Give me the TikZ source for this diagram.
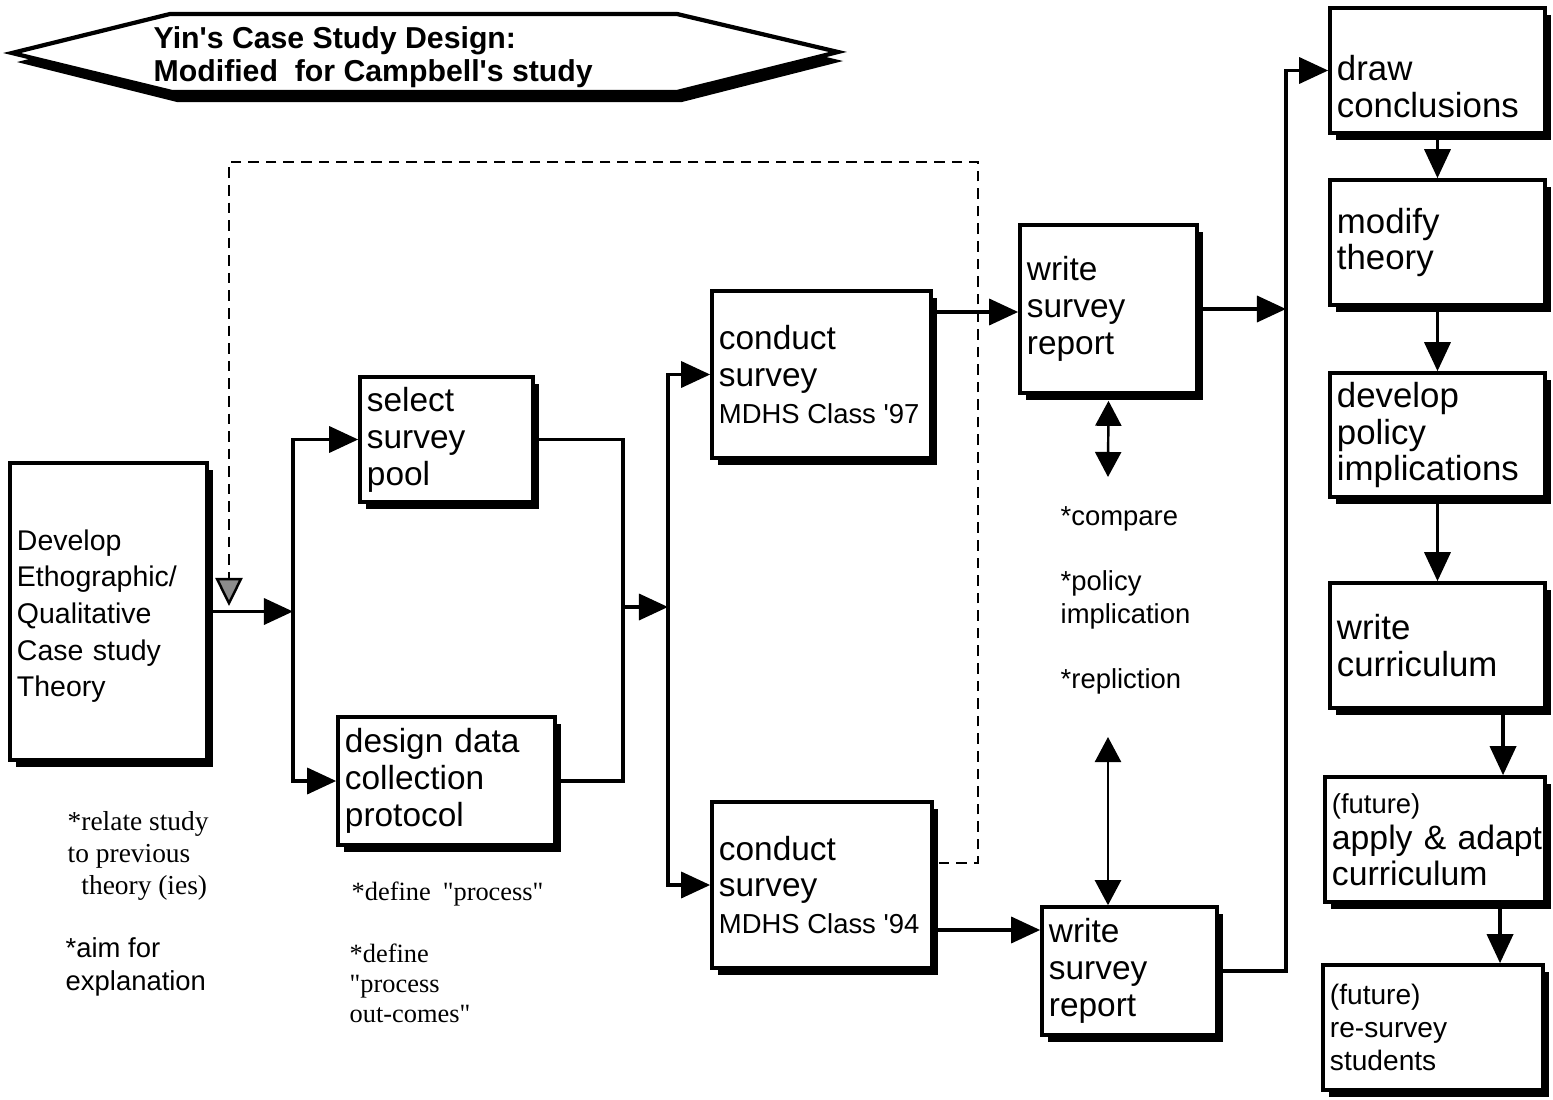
\documentclass[tikz,border=0pt]{standalone}
\usepackage{fontspec}
\setmainfont{Liberation Sans}
\newfontfamily\timesfont{Liberation Serif}
\usetikzlibrary{arrows.meta,shadows,calc}

\newcommand\smallsans{\fontsize{7.8}{9.6}\selectfont\spaceskip=0.28em\relax}

\begin{document}
\begin{tikzpicture}[x=0.01cm, y=-0.01cm,
    stepbox/.style={draw, rectangle, line width=1pt, fill=white,
        inner xsep=0.07cm, inner ysep=0pt, align=left,
        font=\fontsize{9.5}{10.5}\selectfont,
        drop shadow={shadow xshift=0.06cm, shadow yshift=-0.07cm, fill=black, opacity=1}},
    rightbox/.style={stepbox, text width=2.01cm, minimum height=1.25cm,
        font=\fontsize{9.9}{10.5}\selectfont},
    note/.style={align=left, inner sep=0pt, font=\fontsize{7.8}{9.3}\selectfont},
    timesnote/.style={note, font=\timesfont\fontsize{7.8}{9.1}\selectfont},
    flow/.style={line width=1pt, -{Triangle[length=0.29cm, width=0.26cm]}},
    joint/.style={line width=1pt},
    dbl/.style={line width=0.7pt,
        {Triangle[length=0.25cm, width=0.26cm]}-{Triangle[length=0.25cm, width=0.26cm]}},
    loopback/.style={line width=0.7pt, densely dashed,
        -{Triangle[length=0.28cm, width=0.27cm, fill=black!45]}}]

    % Page area
    \path[use as bounding box, fill=white] (0,0) rectangle (1553,1100);

    % Title banner with its shadow
    \fill (17,62) -- (175,23) -- (682,23) -- (843,61) -- (682,102) -- (177,102) -- cycle;
    \draw[line width=1.2pt, fill=white] (12,53) -- (170,14) -- (677,14) -- (838,52) -- (677,92) -- (172,92) -- cycle;
    \node[anchor=west, align=left, inner sep=0pt, font=\fontsize{8.6}{9.3}\selectfont\bfseries] (title) at (153,57)
        {Yin\textquotesingle s Case Study Design:\\Modified\ \ for Campbell\textquotesingle s study};

    % Boxes of the design
    \node[stepbox, text width=1.83cm, minimum height=2.97cm, font=\fontsize{8.1}{10.4}\selectfont] (theory) at (108.5,611.5)
        {\rule{0pt}{0.3cm}Develop\\Ethographic/\\Qualitative\\Case study\\Theory};
    \node[stepbox, text width=1.59cm, minimum height=1.25cm] (pool) at (446.5,439.5) {select\\survey\\pool};
    \node[stepbox, text width=2.03cm, minimum height=1.28cm] (protocol) at (446.5,781) {\mbox{design data}\\collection\\protocol};
    \node[stepbox, text width=2.05cm, minimum height=1.67cm] (survA) at (821.5,374.5)
        {conduct\\survey\\{\smallsans\mbox{MDHS Class \textquotesingle 97}}};
    \node[stepbox, text width=2.06cm, minimum height=1.66cm] (survB) at (822,885)
        {conduct\\survey\\{\smallsans\mbox{MDHS Class \textquotesingle 94}}};
    \node[stepbox, text width=1.63cm, minimum height=1.68cm] (reportA) at (1108.5,309) {write\\survey\\report};
    \node[stepbox, text width=1.61cm, minimum height=1.28cm] (reportB) at (1129.5,971) {write\\survey\\report};

    % Right column
    \node[rightbox] (concl) at (1437.5,70.5) {\rule{0pt}{0.58cm}draw\\conclusions};
    \node[rightbox] (modify) at (1437.5,242.5) {modify\\theory};
    \node[rightbox, minimum height=1.24cm] (policy) at (1437.5,435) {develop\\policy\\implications};
    \node[rightbox] (curric) at (1437.5,645.5) {write\\curriculum};
    \node[rightbox, text width=2.06cm, font=\fontsize{9.6}{10.2}\selectfont] (apply) at (1435,839.5)
        {{\smallsans (future)}\\\mbox{apply \& adapt}\\curriculum};
    \node[rightbox, text width=2.06cm, font=\fontsize{8}{9.4}\selectfont] (resurvey) at (1433,1027.5)
        {(future)\\re-survey\\students};

    % Notes
    \node[timesnote, anchor=west] (relate) at (67,856) {*relate study\\to previous\\\ \ theory (ies)};
    \node[note, anchor=west] (aim) at (65,967) {*aim for\\explanation};
    \node[timesnote, anchor=west, font=\timesfont\fontsize{7.5}{8.6}\selectfont] (defA) at (351,894)
        {*define\hspace{0.12cm}"process"};
    \node[timesnote, anchor=west, font=\timesfont\fontsize{7.5}{8.5}\selectfont] (defB) at (349,983)
        {*define\\"process\\out-comes"};
    \node[note, anchor=west] (compare) at (1060,519) {*compare};
    \node[note, anchor=west] (implic) at (1060,600) {*policy\\implication};
    \node[note, anchor=west] (replic) at (1060,681) {*repliction};

    % Branch and join points
    \coordinate (splitL) at (293,611.5);
    \coordinate (joinL) at (623,607);
    \coordinate (splitM) at (668,607);
    \coordinate (splitR) at (1286,309);
    \coordinate (loopTop) at (978,162);
    \coordinate (loopEnd) at (229,606);
    \coordinate (cmpTop) at (1108,477);
    \coordinate (cmpBot) at (1108,737);

    % Left branch
    \draw[flow] (theory.east) -- (splitL);
    \draw[flow] (splitL) |- (pool.west);
    \draw[flow] (splitL) |- (protocol.west);
    \draw[joint] (pool.east) -| (joinL) |- (protocol.east);

    % Middle branch
    \draw[flow] (joinL) -- (splitM);
    \draw[flow] (splitM) |- (survA.west);
    \draw[flow] (splitM) |- (survB.west);
    \draw[flow] (survA.east |- 0,312) -- (reportA.west |- 0,312);
    \draw[flow] (survB.east |- 0,930) -- (reportB.west |- 0,930);

    % Loop back to the theory
    \draw[loopback] ([xshift=0.05cm]survB.east |- 0,863) -| (loopTop) -| (loopEnd);

    % Compare the two reports
    \draw[dbl] ([yshift=-0.06cm]reportA.south) -- (cmpTop);
    \draw[dbl] (cmpBot) -- (cmpBot |- reportB.north);

    % Right branch
    \draw[flow] (reportA.east) -- (splitR);
    \draw[flow] (reportB.east) -| (splitR) |- (concl.west);

    % Down the right column
    \draw[flow] ([yshift=-0.05cm]concl.south) -- (modify.north);
    \draw[flow] ([yshift=-0.05cm]modify.south) -- (policy.north);
    \draw[flow] ([yshift=-0.05cm]policy.south) -- (curric.north);
    \draw[flow] ([xshift=0.655cm, yshift=-0.05cm]curric.south) -- ([xshift=0.655cm]curric.south |- apply.north);
    \draw[flow] ([xshift=0.65cm, yshift=-0.05cm]apply.south) -- ([xshift=0.65cm]apply.south |- resurvey.north);

\end{tikzpicture}
\end{document}
